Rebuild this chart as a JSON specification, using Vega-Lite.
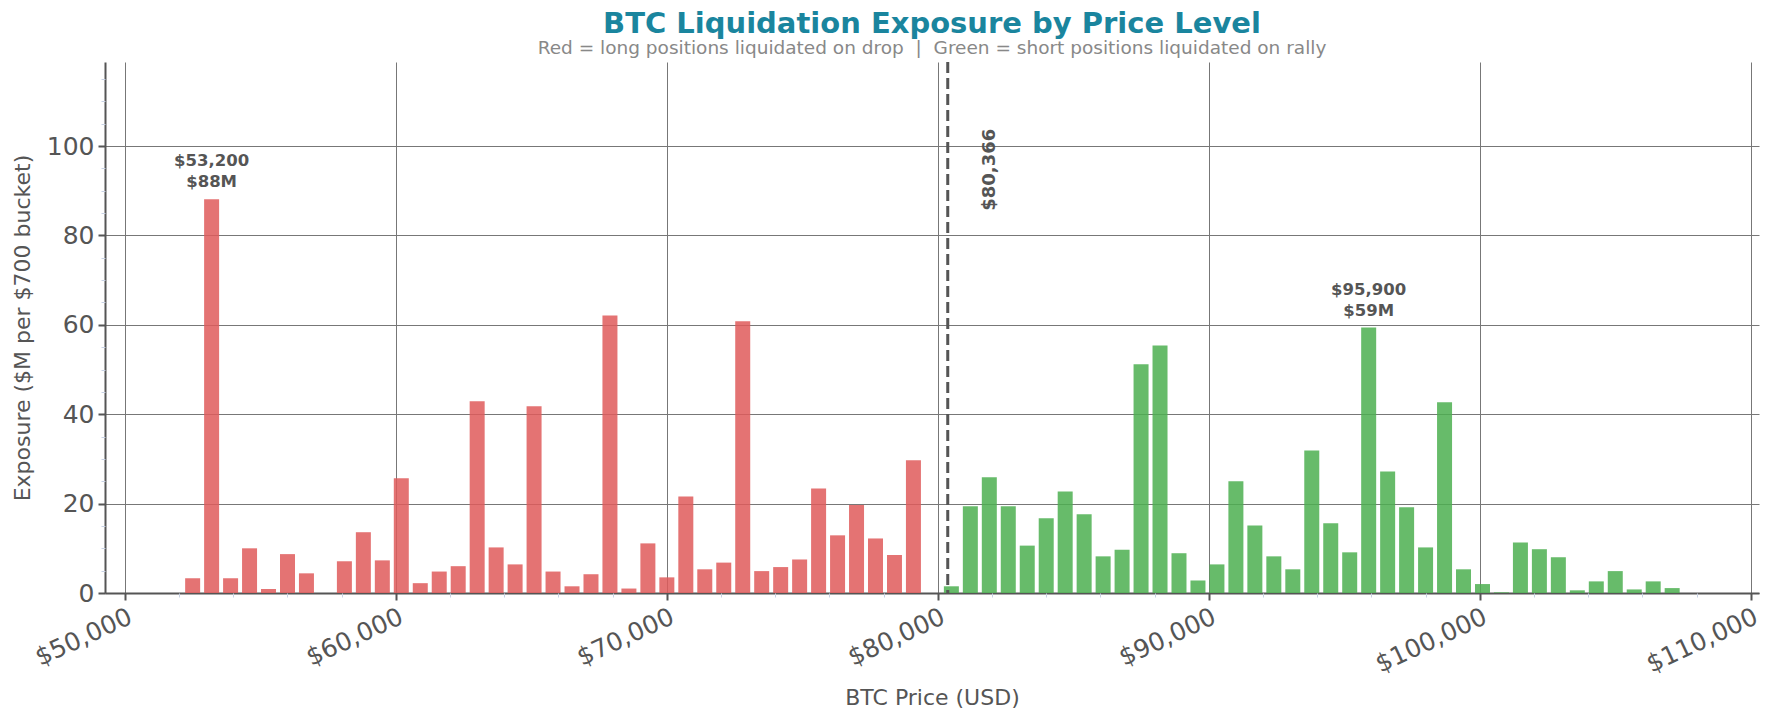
{
  "$schema": "https://vega.github.io/schema/vega-lite/v6.json",
  "width": 1654,
  "height": 531,
  "autosize": {"type": "none"},
  "padding": {"left": 105, "top": 62, "right": 15, "bottom": 130},
  "background": "white",
  "config": {
    "view": {"stroke": null},
    "font": "DejaVu Sans",
    "axis": {"labelFont": "DejaVu Sans", "titleFont": "DejaVu Sans"}
  },
  "title": {
    "text": "BTC Liquidation Exposure by Price Level",
    "subtitle": "Red = long positions liquidated on drop\u00a0\u00a0|\u00a0\u00a0Green = short positions liquidated on rally",
    "anchor": "middle",
    "frame": "group",
    "font": "DejaVu Sans",
    "fontSize": 29,
    "fontWeight": "bold",
    "color": "#1a859e",
    "subtitleFont": "DejaVu Sans",
    "subtitleFontSize": 18.5,
    "subtitleColor": "#888888",
    "subtitlePadding": 0,
    "offset": 3
  },
  "datasets": {
    "bars": [
      {"price": 52500, "value": 3.3, "side": "long"},
      {"price": 53200, "value": 88.1, "side": "long"},
      {"price": 53900, "value": 3.3, "side": "long"},
      {"price": 54600, "value": 10.0, "side": "long"},
      {"price": 55300, "value": 0.9, "side": "long"},
      {"price": 56000, "value": 8.7, "side": "long"},
      {"price": 56700, "value": 4.4, "side": "long"},
      {"price": 58100, "value": 7.1, "side": "long"},
      {"price": 58800, "value": 13.6, "side": "long"},
      {"price": 59500, "value": 7.3, "side": "long"},
      {"price": 60200, "value": 25.7, "side": "long"},
      {"price": 60900, "value": 2.2, "side": "long"},
      {"price": 61600, "value": 4.8, "side": "long"},
      {"price": 62300, "value": 6.0, "side": "long"},
      {"price": 63000, "value": 42.9, "side": "long"},
      {"price": 63700, "value": 10.2, "side": "long"},
      {"price": 64400, "value": 6.4, "side": "long"},
      {"price": 65100, "value": 41.8, "side": "long"},
      {"price": 65800, "value": 4.8, "side": "long"},
      {"price": 66500, "value": 1.5, "side": "long"},
      {"price": 67200, "value": 4.2, "side": "long"},
      {"price": 67900, "value": 62.1, "side": "long"},
      {"price": 68600, "value": 1.0, "side": "long"},
      {"price": 69300, "value": 11.1, "side": "long"},
      {"price": 70000, "value": 3.5, "side": "long"},
      {"price": 70700, "value": 21.6, "side": "long"},
      {"price": 71400, "value": 5.3, "side": "long"},
      {"price": 72100, "value": 6.8, "side": "long"},
      {"price": 72800, "value": 60.8, "side": "long"},
      {"price": 73500, "value": 4.9, "side": "long"},
      {"price": 74200, "value": 5.8, "side": "long"},
      {"price": 74900, "value": 7.5, "side": "long"},
      {"price": 75600, "value": 23.4, "side": "long"},
      {"price": 76300, "value": 12.9, "side": "long"},
      {"price": 77000, "value": 19.7, "side": "long"},
      {"price": 77700, "value": 12.2, "side": "long"},
      {"price": 78400, "value": 8.5, "side": "long"},
      {"price": 79100, "value": 29.7, "side": "long"},
      {"price": 80500, "value": 1.5, "side": "short"},
      {"price": 81200, "value": 19.4, "side": "short"},
      {"price": 81900, "value": 25.9, "side": "short"},
      {"price": 82600, "value": 19.4, "side": "short"},
      {"price": 83300, "value": 10.6, "side": "short"},
      {"price": 84000, "value": 16.7, "side": "short"},
      {"price": 84700, "value": 22.7, "side": "short"},
      {"price": 85400, "value": 17.6, "side": "short"},
      {"price": 86100, "value": 8.2, "side": "short"},
      {"price": 86800, "value": 9.7, "side": "short"},
      {"price": 87500, "value": 51.2, "side": "short"},
      {"price": 88200, "value": 55.4, "side": "short"},
      {"price": 88900, "value": 8.9, "side": "short"},
      {"price": 89600, "value": 2.8, "side": "short"},
      {"price": 90300, "value": 6.4, "side": "short"},
      {"price": 91000, "value": 25.0, "side": "short"},
      {"price": 91700, "value": 15.1, "side": "short"},
      {"price": 92400, "value": 8.2, "side": "short"},
      {"price": 93100, "value": 5.3, "side": "short"},
      {"price": 93800, "value": 31.9, "side": "short"},
      {"price": 94500, "value": 15.6, "side": "short"},
      {"price": 95200, "value": 9.1, "side": "short"},
      {"price": 95900, "value": 59.4, "side": "short"},
      {"price": 96600, "value": 27.2, "side": "short"},
      {"price": 97300, "value": 19.2, "side": "short"},
      {"price": 98000, "value": 10.2, "side": "short"},
      {"price": 98700, "value": 42.7, "side": "short"},
      {"price": 99400, "value": 5.3, "side": "short"},
      {"price": 100100, "value": 2.0, "side": "short"},
      {"price": 100800, "value": 0.15, "side": "short"},
      {"price": 101500, "value": 11.3, "side": "short"},
      {"price": 102200, "value": 9.8, "side": "short"},
      {"price": 102900, "value": 8.0, "side": "short"},
      {"price": 103600, "value": 0.6, "side": "short"},
      {"price": 104300, "value": 2.6, "side": "short"},
      {"price": 105000, "value": 4.9, "side": "short"},
      {"price": 105700, "value": 0.8, "side": "short"},
      {"price": 106400, "value": 2.6, "side": "short"},
      {"price": 107100, "value": 1.1, "side": "short"}
    ],
    "peaks": [
      {"price": 53200, "value": 88.1, "label": "$53,200\n$88M"},
      {"price": 95900, "value": 59.4, "label": "$95,900\n$59M"}
    ],
    "current": [
      {"price": 80366, "value": 94.7, "label": "$80,366"}
    ]
  },
  "layer": [
    {
      "data": {"name": "bars"},
      "mark": {"type": "bar", "width": 15, "fillOpacity": 0.85},
      "encoding": {
        "x": {
          "field": "price",
          "type": "quantitative",
          "scale": {"domain": [49450, 110120], "nice": false, "zero": false},
          "axis": {
            "title": "BTC Price (USD)",
            "values": [50000, 60000, 70000, 80000, 90000, 100000, 110000],
            "format": "$,.0f",
            "labelAngle": -25,
            "labelAlign": "right",
            "labelBaseline": "top",
            "labelFontSize": 25,
            "labelColor": "#555555",
            "labelPadding": 4,
            "titleFontSize": 22,
            "titleFontWeight": "normal",
            "titleColor": "#555555",
            "titlePadding": 10,
            "grid": true,
            "gridColor": "#777777",
            "gridWidth": 1,
            "domainColor": "#555555",
            "domainWidth": 2,
            "tickColor": "#555555",
            "tickWidth": 2,
            "tickSize": 7,
            "labelFlush": false,
            "labelOverlap": false
          }
        },
        "y": {
          "field": "value",
          "type": "quantitative",
          "scale": {"domain": [0, 118.8], "nice": false},
          "axis": {
            "title": "Exposure ($M per $700 bucket)",
            "values": [0, 20, 40, 60, 80, 100],
            "labelFontSize": 25,
            "labelColor": "#555555",
            "labelPadding": 4,
            "titleFontSize": 22,
            "titleFontWeight": "normal",
            "titleColor": "#555555",
            "titlePadding": 12,
            "grid": true,
            "gridColor": "#777777",
            "gridWidth": 1,
            "domainColor": "#555555",
            "domainWidth": 2,
            "tickColor": "#555555",
            "tickWidth": 2,
            "tickSize": 7,
            "labelFlush": false
          }
        },
        "color": {
          "field": "side",
          "type": "nominal",
          "scale": {"domain": ["long", "short"], "range": ["#df5a5a", "#4caf50"]},
          "legend": null
        }
      }
    },
    {
      "data": {"name": "current"},
      "mark": {"type": "rule", "color": "#555555", "strokeWidth": 3, "strokeDash": [11, 5]},
      "encoding": {
        "x": {
          "field": "price",
          "type": "quantitative",
          "axis": {
            "orient": "bottom",
            "title": null,
            "labels": false,
            "domain": false,
            "grid": false,
            "values": [52000, 54000, 56000, 58000, 62000, 64000, 66000, 68000, 72000, 74000, 76000, 78000, 82000, 84000, 86000, 88000, 92000, 94000, 96000, 98000, 102000, 104000, 106000, 108000],
            "tickColor": "#c8d2e4",
            "tickWidth": 1,
            "tickSize": 4
          }
        }
      }
    },
    {
      "data": {"name": "current"},
      "mark": {"type": "text", "angle": 270, "align": "center", "baseline": "middle", "fontSize": 18, "fontWeight": "bold", "color": "#555555", "font": "DejaVu Sans"},
      "encoding": {
        "x": {"field": "price", "type": "quantitative", "axis": null},
        "xOffset": {"value": 42},
        "y": {
          "field": "value",
          "type": "quantitative",
          "axis": {
            "orient": "left",
            "title": null,
            "labels": false,
            "domain": false,
            "grid": false,
            "values": [5, 10, 15, 25, 30, 35, 45, 50, 55, 65, 70, 75, 85, 90, 95, 105, 110, 115],
            "tickColor": "#c8d2e4",
            "tickWidth": 1,
            "tickSize": 4
          }
        },
        "text": {"field": "label"}
      }
    },
    {
      "data": {"name": "peaks"},
      "mark": {"type": "text", "align": "center", "baseline": "bottom", "dy": -30, "fontSize": 16.5, "fontWeight": "bold", "color": "#555555", "lineBreak": "\n", "lineHeight": 21, "font": "DejaVu Sans"},
      "encoding": {
        "x": {"field": "price", "type": "quantitative", "axis": null},
        "y": {"field": "value", "type": "quantitative", "axis": null},
        "text": {"field": "label"}
      }
    }
  ],
  "resolve": {"axis": {"x": "independent", "y": "independent"}}
}
